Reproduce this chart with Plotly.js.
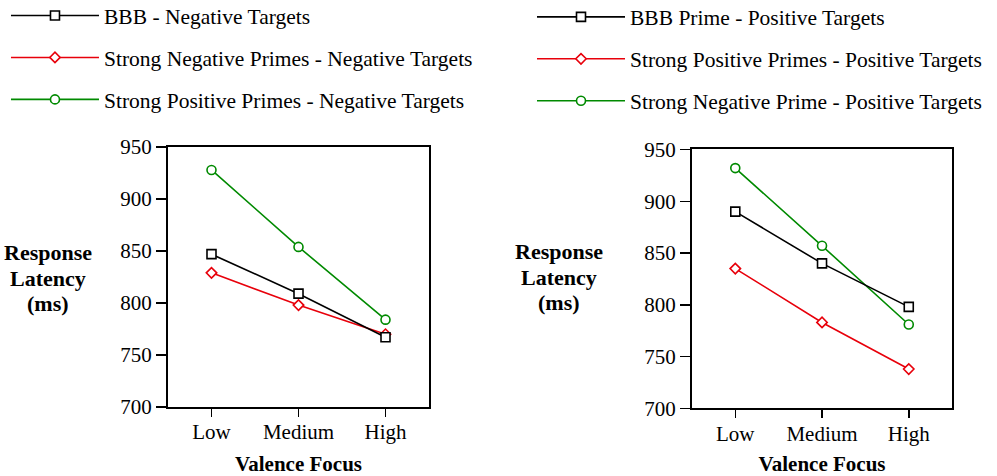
<!DOCTYPE html>
<html>
<head>
<meta charset="utf-8">
<script src="https://cdn.plot.ly/plotly-3.0.1.min.js"></script>
<style>html,body{margin:0;padding:0;background:#fff;}#chart{width:997px;height:476px;}</style>
</head>
<body>
<div id="chart"></div>
<script>
// ---- data ----
const categories = ['Low', 'Medium', 'High'];

const negTargetsNames = ['BBB - Negative Targets', 'Strong Negative Primes - Negative Targets', 'Strong Positive Primes - Negative Targets'];
const negBBB = [847, 809, 767];
const negStrongNeg = [829, 798, 770];
const negStrongPos = [928, 854, 784];

const posTargetsNames = ['BBB Prime - Positive Targets', 'Strong Positive Primes - Positive Targets', 'Strong Negative Prime - Positive Targets'];
const posBBB = [890, 840, 798];
const posStrongPos = [835, 783, 738];
const posStrongNeg = [932, 857, 781];

const yTickVals = [700, 750, 800, 850, 900, 950];
const xTitle = 'Valence Focus';
const yTitleLines = ['Response', 'Latency', '(ms)'];

// ---- styles ----
const FONT = '"Liberation Serif", serif';
const BLACK = '#000000', RED = '#e8000b', GREEN = '#008a00';

function tr(name, y, color, symbol, size, xa, ya, lg, rank) {
  return {
    type: 'scatter', mode: 'lines+markers', name: name,
    x: categories, y: y, xaxis: xa, yaxis: ya, legend: lg,
    legendgroup: name, legendrank: rank,
    line: {color: color, width: 1.6},
    marker: {symbol: symbol, size: size, color: '#ffffff', line: {color: color, width: 1.6}},
    hoverinfo: 'skip'
  };
}

const data = [
  tr(negTargetsNames[1], negStrongNeg, RED, 'diamond', 8, 'x', 'y', 'legend', 2),
  tr(negTargetsNames[2], negStrongPos, GREEN, 'circle', 9, 'x', 'y', 'legend', 3),
  tr(negTargetsNames[0], negBBB, BLACK, 'square', 9, 'x', 'y', 'legend', 1),
  tr(posTargetsNames[1], posStrongPos, RED, 'diamond', 8, 'x2', 'y2', 'legend2', 2),
  tr(posTargetsNames[2], posStrongNeg, GREEN, 'circle', 9, 'x2', 'y2', 'legend2', 3),
  tr(posTargetsNames[0], posBBB, BLACK, 'square', 9, 'x2', 'y2', 'legend2', 1)
];

function xaxis(domain, anchor) {
  return {
    domain: domain, anchor: anchor, type: 'category', range: [-0.5, 2.5],
    showline: true, linewidth: 2, linecolor: BLACK, mirror: true,
    ticks: 'outside', ticklen: 8, tickwidth: 1.5, tickcolor: BLACK,
    ticklabelstandoff: -3,
    showgrid: false, zeroline: false, fixedrange: true,
    tickfont: {family: FONT, size: 21, color: BLACK},
    title: {text: xTitle, standoff: 13, font: {family: FONT, size: 21, color: BLACK, weight: 'bold'}}
  };
}
function yaxis(domain, anchor) {
  return {
    domain: domain, anchor: anchor, range: [700, 950], tickvals: yTickVals,
    showline: true, linewidth: 2, linecolor: BLACK, mirror: true,
    ticks: 'outside', ticklen: 10, tickwidth: 1.5, tickcolor: BLACK,
    showgrid: false, zeroline: false, fixedrange: true,
    tickfont: {family: FONT, size: 21, color: BLACK}
  };
}

const legendBase = {
  bgcolor: 'rgba(0,0,0,0)', borderwidth: 0, traceorder: 'grouped', tracegroupgap: 11,
  itemwidth: 88, itemclick: false, itemdoubleclick: false,
  font: {family: FONT, size: 21.5, color: BLACK}, xanchor: 'left', yanchor: 'top'
};

function yTitleAnnots(cx, cy) {
  const gap = 25.5 / 476;
  return yTitleLines.map((t, i) => ({
    text: t, xref: 'paper', yref: 'paper', x: cx, y: cy + (1 - i) * gap,
    xanchor: 'center', yanchor: 'middle', showarrow: false,
    font: {family: FONT, size: 22, color: BLACK, weight: 'bold'}
  }));
}

const layout = {
  width: 997, height: 476,
  margin: {l: 0, r: 0, t: 0, b: 0, autoexpand: false},
  paper_bgcolor: '#ffffff', plot_bgcolor: '#ffffff',
  font: {family: FONT, color: BLACK},
  showlegend: true,
  legend: Object.assign({}, legendBase, {x: 0.006, y: 1.0105}),
  legend2: Object.assign({}, legendBase, {x: 0.5336, y: 1.0076}),
  xaxis: xaxis([0.1685, 0.4303], 'y'),
  yaxis: yaxis([0.145, 0.691], 'x'),
  xaxis2: xaxis([0.694, 0.955], 'y2'),
  yaxis2: yaxis([0.142, 0.686], 'x2'),
  annotations: yTitleAnnots(0.0477, 1 - 278 / 476).concat(yTitleAnnots(0.5607, 1 - 277 / 476))
};

Plotly.newPlot('chart', data, layout, {staticPlot: true, displayModeBar: false});
</script>
</body>
</html>
